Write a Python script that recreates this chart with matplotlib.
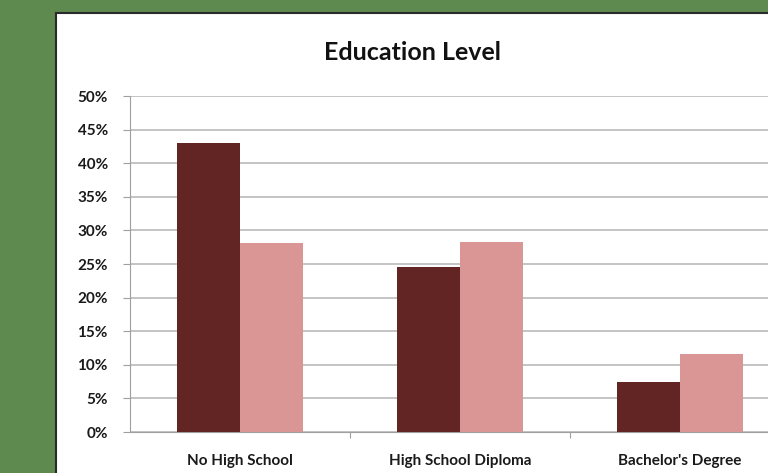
import numpy as np
import matplotlib.pyplot as plt
from matplotlib.patches import Rectangle

categories = ['No High School', 'High School Diploma', "Bachelor's Degree"]
series_dark = [43.0, 24.5, 7.4]
series_light = [28.1, 28.2, 11.6]
yticks = [0, 5, 10, 15, 20, 25, 30, 35, 40, 45, 50]

plt.rcParams['font.family'] = ['Lato', 'DejaVu Sans']

W, H = 768, 473
fig = plt.figure(figsize=(W / 100, H / 100), dpi=100)
fig.patch.set_facecolor('#5e8a50')

# white chart panel with dark edge on left/top
panel = Rectangle((56 / W, 0), 1 - 56 / W, 1 - 13 / H, transform=fig.transFigure,
                  facecolor='white', edgecolor='none', zorder=-2)
fig.patches.append(panel)
fig.add_artist(plt.Line2D([56 / W, 56 / W], [0, 1 - 13 / H], color='#2a2a2a', lw=1.5,
                          transform=fig.transFigure, zorder=-1))
fig.add_artist(plt.Line2D([56 / W, 1], [1 - 13 / H, 1 - 13 / H], color='#2a2a2a', lw=1.5,
                          transform=fig.transFigure, zorder=-1))

ax = fig.add_axes([130 / W, (H - 432) / H, (W - 130) / W, 336 / H])
ax.set_zorder(1)
ax.set_facecolor('white')

x = np.arange(len(categories))
bw = 63 / 220
ax.bar(x - bw / 2, series_dark, bw, color='#632523', zorder=3)
ax.bar(x + bw / 2, series_light, bw, color='#d99694', zorder=3)

ax.set_xlim(-0.5, -0.5 + 638 / 220)
ax.set_ylim(0, 50)
ax.set_yticks(yticks)
ax.set_yticklabels(['%d%%' % v for v in yticks], fontsize=11, fontweight='bold', color='#1a1a1a')
ax.yaxis.grid(True, color='#bfbfbf', lw=1.3, zorder=0)
ax.tick_params(axis='y', length=5, color='#a0a0a0', pad=11)

ax.set_xticks([0.5, 1.5])
ax.set_xticklabels([])
ax.set_xticks(x, minor=True)
ax.set_xticklabels(categories, minor=True, fontsize=11, fontweight='bold', color='#1a1a1a')
ax.tick_params(axis='x', which='major', length=4, color='#a0a0a0')
ax.tick_params(axis='x', which='minor', length=0, pad=16)

for s in ['top', 'right']:
    ax.spines[s].set_visible(False)
ax.spines['left'].set_color('#a0a0a0')
ax.spines['bottom'].set_color('#a0a0a0')

fig.text(412 / W, 1 - 52 / H, 'Education Level', ha='center', va='center',
         fontsize=18, fontweight='bold', color='#111111')

fig.savefig('out.png', dpi=100, facecolor=fig.get_facecolor())
